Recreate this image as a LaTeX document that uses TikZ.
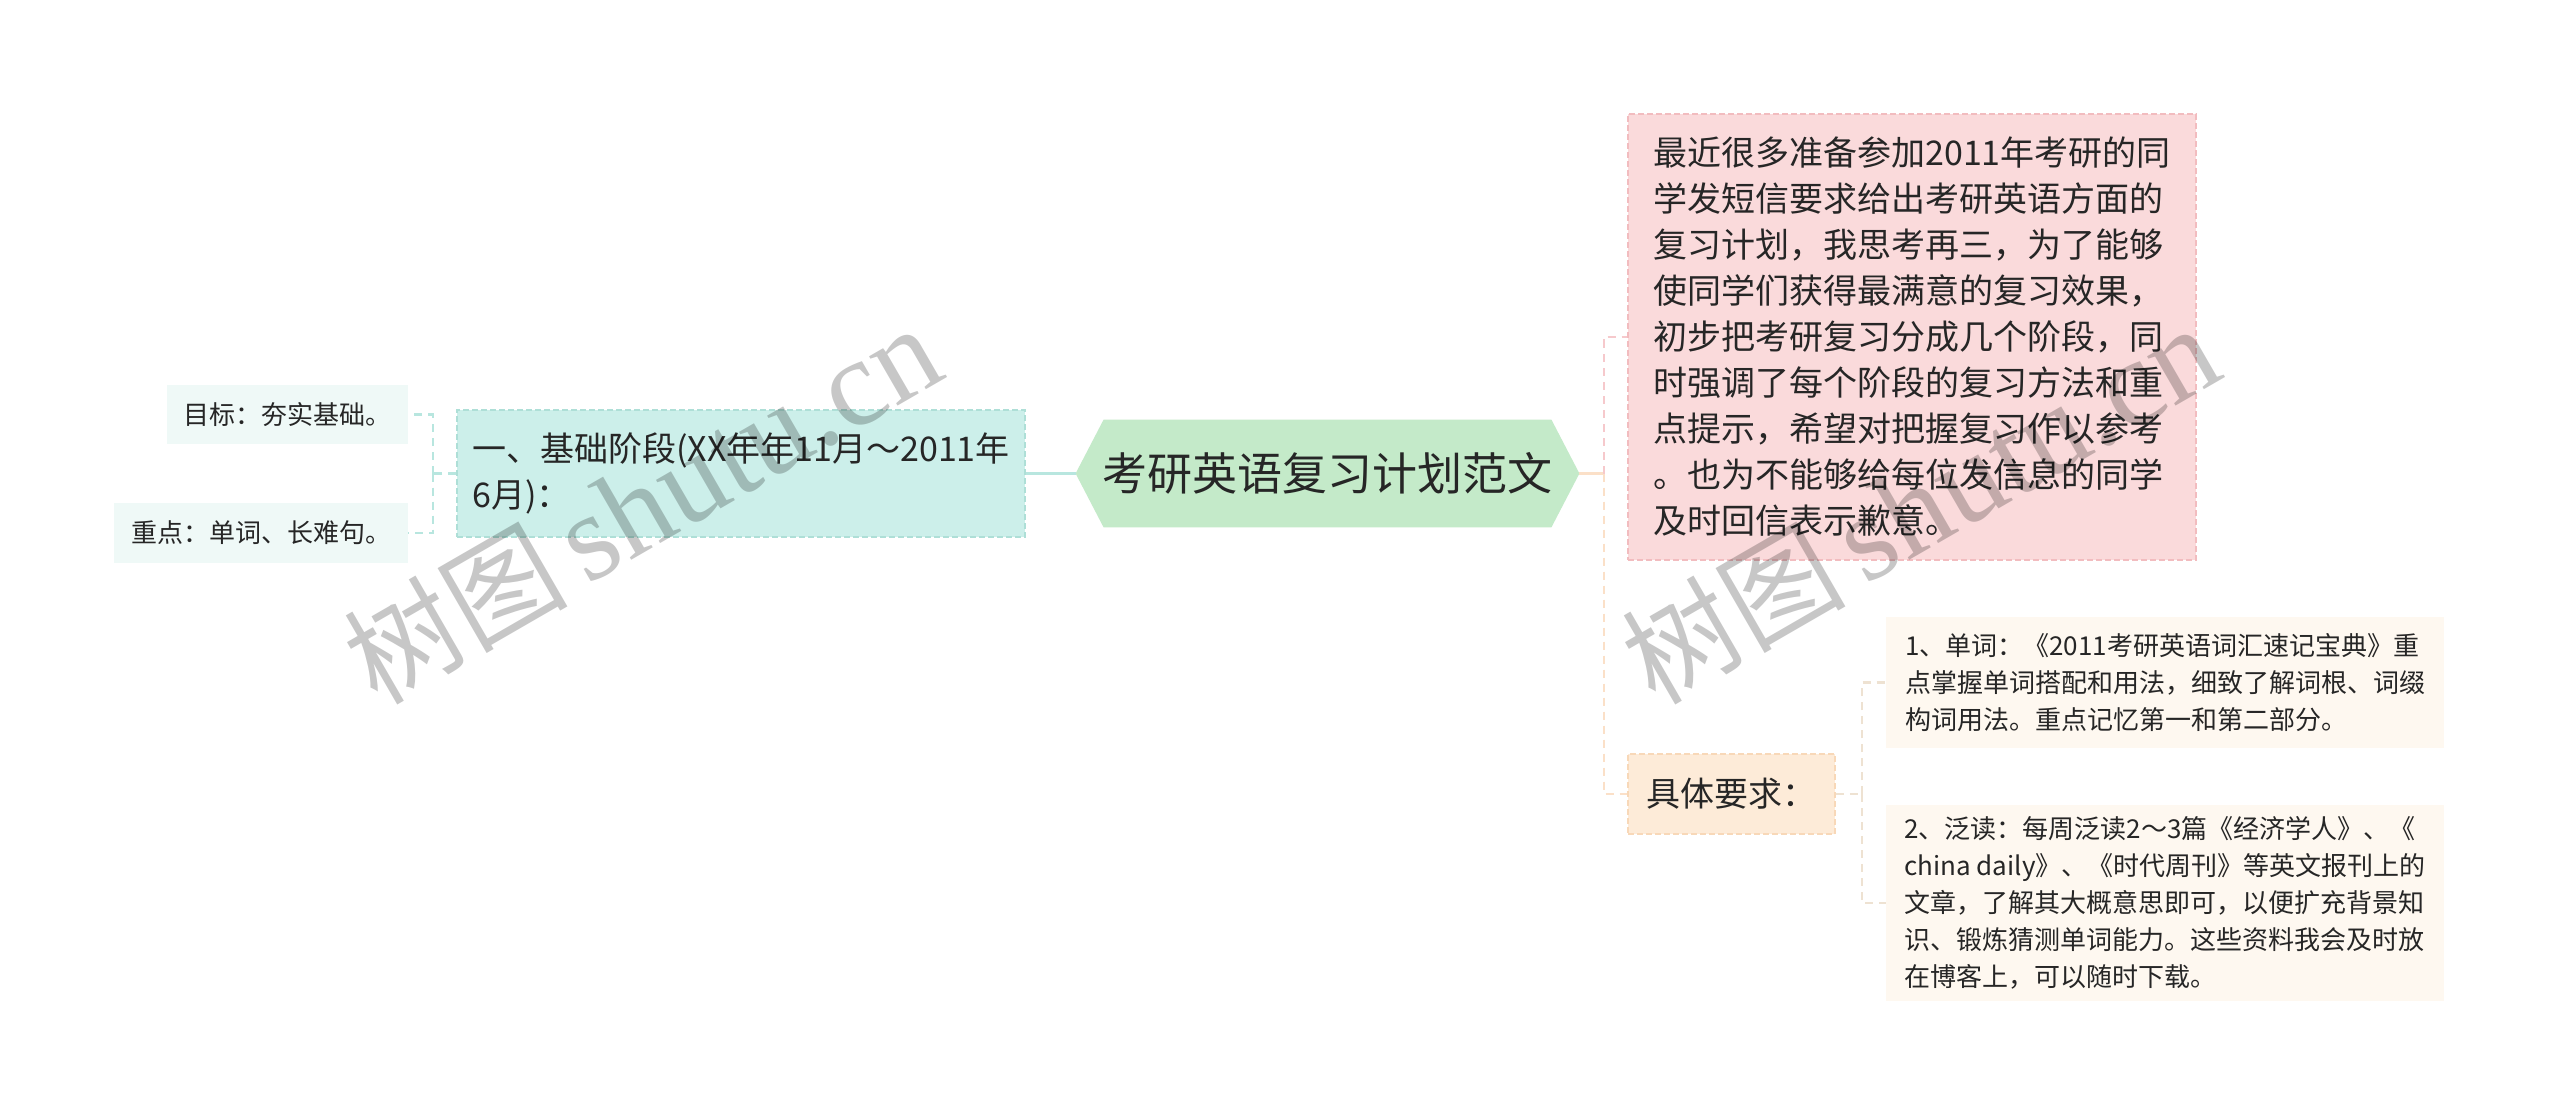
\documentclass[tikz,border=0pt]{standalone}
\usepackage{fontspec}
\setmainfont{Noto Sans CJK SC}
\newfontfamily\wmlatin{Liberation Serif}
\usetikzlibrary{backgrounds}
\definecolor{txt}{HTML}{262626}
\definecolor{hexfill}{HTML}{C4EAC9}
\definecolor{lonefill}{HTML}{CCEFEA}
\definecolor{loneborder}{HTML}{AEDFD7}
\definecolor{smallfill}{HTML}{EFF9F7}
\definecolor{cyanline}{HTML}{B8E6DF}
\definecolor{pinkfill}{HTML}{FADADB}
\definecolor{pinkborder}{HTML}{F2BCBF}
\definecolor{pinkline}{HTML}{F6C9CC}
\definecolor{peachfill}{HTML}{FDEBD8}
\definecolor{peachborder}{HTML}{F8D8B8}
\definecolor{peachline}{HTML}{FBE0C8}
\definecolor{creamfill}{HTML}{FEF8F0}
\definecolor{beigeline}{HTML}{EEE2D2}
\tikzset{
  box/.style={rectangle, inner sep=0pt, align=left, text=txt},
  lvlone/.style={box, font=\fontsize{17}{23}\selectfont},
  lvltwo/.style={box, font=\fontsize{13}{18.5}\selectfont},
  dashborder/.style={dash pattern=on 3pt off 1.5pt, line width=0.8pt},
  conn/.style={line width=1.3pt},
  dconn/.style={line width=1.3pt, dash pattern=on 4pt off 3pt},
  wm/.style={rotate=30, text=black, text opacity=0.22, inner sep=0pt}
}
\begin{document}
\begin{tikzpicture}[x=0.5pt,y=-0.5pt]
\begin{scope}[on background layer]
\fill[white] (0,0) rectangle (2560,1118);
\end{scope}
\useasboundingbox (0,0) rectangle (2560,1118);

% root
\node[box, align=center, minimum width=251.5pt, minimum height=53.5pt,
  font=\fontsize{22.5}{27}\selectfont] (root) at (1327.5,473.5) {考研英语复习计划范文};
\begin{scope}[on background layer]
\fill[hexfill] ([xshift=14pt]root.north west) -- ([xshift=-14pt]root.north east)
  -- (root.east) -- ([xshift=-14pt]root.south east) -- ([xshift=14pt]root.south west)
  -- (root.west) -- cycle;
\end{scope}

% left branch
\node[lvlone, fill=lonefill, draw=loneborder, dashborder, minimum width=284pt, minimum height=63.5pt] (L1) at (741,473.5)
  {一、基础阶段(XX年年11月～2011年\\6月)：};
\node[lvltwo, fill=smallfill, minimum width=120.5pt, minimum height=29.5pt] (g1) at (287.5,414.5) {目标：夯实基础。};
\node[lvltwo, fill=smallfill, minimum width=147pt, minimum height=30pt] (g2) at (261,533) {重点：单词、长难句。};

% right branch
\node[lvlone, fill=pinkfill, draw=pinkborder, dashborder, minimum width=284pt, minimum height=223pt] (P) at (1912,337)
  {最近很多准备参加2011年考研的同\\学发短信要求给出考研英语方面的\\复习计划，我思考再三，为了能够\\使同学们获得最满意的复习效果，\\初步把考研复习分成几个阶段，同\\时强调了每个阶段的复习方法和重\\点提示，希望对把握复习作以参考\\。也为不能够给每位发信息的同学\\及时回信表示歉意。};
\node[lvlone, fill=peachfill, draw=peachborder, dashborder, minimum width=103.5pt, minimum height=40pt] (R) at (1731.5,794) {具体要求：};
\node[lvltwo, fill=creamfill, minimum width=279pt, minimum height=65.5pt] (C1) at (2165,682.5)
  {1、单词：《2011考研英语词汇速记宝典》重\\点掌握单词搭配和用法，细致了解词根、词缀\\构词用法。重点记忆第一和第二部分。};
\node[lvltwo, fill=creamfill, minimum width=279pt, minimum height=98pt] (C2) at (2165,903)
  {2、泛读：每周泛读2～3篇《经济学人》、《\\china daily》、《时代周刊》等英文报刊上的\\文章，了解其大概意思即可，以便扩充背景知\\识、锻炼猜测单词能力。这些资料我会及时放\\在博客上，可以随时下载。};

% junctions
\coordinate (jl) at (433,473.5);
\coordinate (jr) at (1604,473.5);
\coordinate (jc) at (1862,794);

% connectors
\draw[conn, cyanline] (root.west) -- (L1.east);
\draw[dconn, cyanline] (L1.west) -- (jl);
\draw[dconn, cyanline] (jl) |- (g1.east);
\draw[dconn, cyanline] (jl) |- (g2.east);
\draw[conn, peachline] (root.east) -- (jr);
\draw[dconn, pinkline] (jr) |- (P.west);
\draw[dconn, peachline] (jr) |- (R.west);
\draw[dconn, beigeline] (R.east) -- (jc);
\draw[dconn, beigeline] (jc) |- (C1.west);
\draw[dconn, beigeline] (jc) |- (C2.west);

% watermarks
\node[wm] (wm1) at (642,505) {\fontsize{56}{56}\selectfont 树图\,{\wmlatin\fontsize{62}{62}\selectfont shutu.cn}};
\node[wm] (wm2) at (1920,505) {\fontsize{56}{56}\selectfont 树图\,{\wmlatin\fontsize{62}{62}\selectfont shutu.cn}};
\end{tikzpicture}
\end{document}
